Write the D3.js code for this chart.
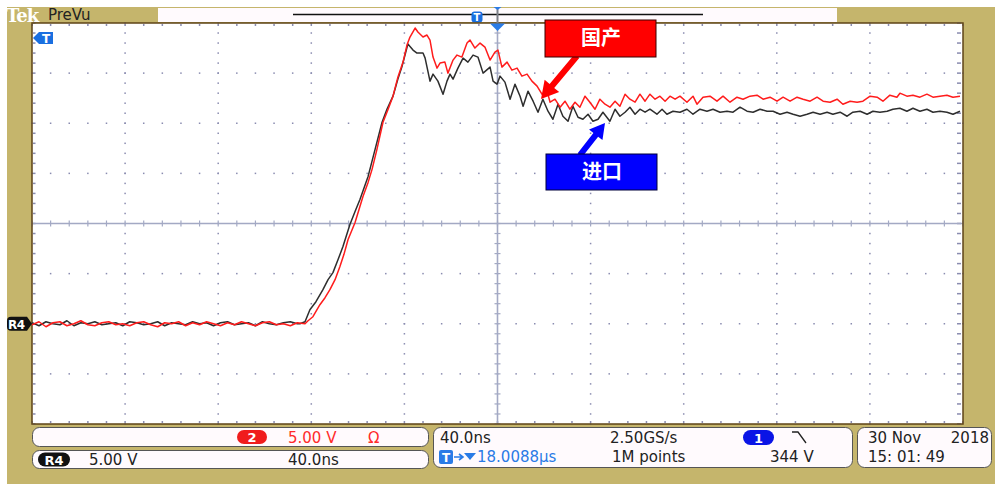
<!DOCTYPE html>
<html><head><meta charset="utf-8">
<script src="https://cdn.jsdelivr.net/npm/d3@7"></script>
<style>html,body{margin:0;padding:0;background:#fff;} svg{display:block}</style>
</head><body>
<svg id="c" width="995" height="484"></svg>
<script>
// ---- settings ----
const timeDivNs = 40;       // 40.0ns / div
const voltDiv = 5;          // 5.00 V / div
const timeDomain = [0, 400];
const voltDomain = [-10, 30];   // R4 reference (0 V) sits 2 div below centre

// ---- traces: [time ns, volts] ----
const importTrace = [ // 进口 (black)
[0,0.1],[3,-0.2],[6,0.2],[9,0],[12,-0.1],[15,0.3],[18,-0.2],[21,0.1],[24,0],[27,0.2],[30,-0.1],[33,0],[36,0.1],[39,-0.2],[42,0.2],[45,0.1],[48,-0.1],[51,0],[54,0.2],[57,-0.2],[60,0.1],[63,0],[66,-0.1],[69,0.2],[72,0],[75,0.1],[78,-0.2],[81,0.1],[84,0.2],[87,-0.1],[90,0],[93,0.1],[96,-0.2],[99,0.2],[102,0],[105,-0.1],[108,0.1],[111,0.2],[114,0],
[115.1,0],[117.3,0.2],[119.4,1.4],[122,2.2],[125,3.4],[127.2,4.4],[129.3,5.1],[131.5,6.4],[133.6,7.7],[136.6,9.9],[138.8,11.2],[140.9,12.4],[144.4,14.7],[147.4,17.4],[150.4,20.1],[152.5,21.4],[155.1,22.7],[157.2,24.4],[158.9,25.6],[161.5,27.9],[163.7,27.3],[165.4,27.0],[168,27.0],[168.9,26.5],[171,24.2],[172.3,24.9],[174.4,24.2],[176.6,22.9],[178.3,24.2],[179.6,24.9],[180.9,24.4],[183,25.5],[185.2,26.5],[187.3,26.1],[189.5,26.8],[191.6,26.6],[193.8,25.0],[196.8,25.6],[198.1,24.2],[199.8,23.9],[201.1,24.7],[203.2,24.1],[205.4,22.4],[207.5,23.9],[209.7,22.7],[211,21.7],[213.1,23.2],[215.3,22.2],[217.4,21.1],[219.5,22.4],[221.7,21.2],[223.8,20.4],[226,21.9],[228.1,20.7],[230.3,20.2],[232.4,21.7],[234.6,20.6],[236.7,20.4],[238.9,20.9],[241,20.2],[243.2,20.4],[245.3,21.1],[248.3,20.2],[250.5,21.4],[252.6,20.7],[254.8,21.1],[256.9,21.6],[259.1,20.9],[261.2,21.4],[263.4,21.1],[265.5,21.4],[268.5,20.9],[270.7,21.4],[272.8,20.9],[275.4,21.2],[278.4,21.1],[281.4,21.4],[284,20.9],[287,21.4],[290,21.2],[292.6,21.4],[295.6,21.1],[298.6,21.2],[301.2,21.1],[304.2,21.6],[307.2,21.2],[309.8,21.1],[312.8,21.4],[315.8,21.2],[318.4,21.2],[321.4,20.9],[324.4,21.1],[327,20.9],[330,20.7],[333,20.9],[335.6,21.1],[338.6,20.9],[341.6,21.1],[344.1,20.9],[347.2,21.1],[350.2,20.7],[352.7,21.1],[355.8,21.2],[358.8,20.9],[361.3,21.2],[364.3,21.1],[367.4,21.2],[369.9,21.4],[372.9,21.5],[375.9,21.2],[378.5,21.5],[381.5,21.2],[384.5,21.4],[387.1,21.1],[390.1,21.2],[393.1,21.1],[395.7,20.9],[398.7,21.2]
];
const domesticTrace = [ // 国产 (red)
[0,-0.1],[3,0.2],[6,-0.3],[9,0.1],[12,0.2],[15,-0.2],[18,0],[21,0.3],[24,-0.1],[27,-0.2],[30,0.1],[33,0.2],[36,-0.1],[39,0],[42,-0.2],[45,0.1],[48,0.2],[51,-0.1],[54,-0.3],[57,0.1],[60,0],[63,0.2],[66,-0.2],[69,0.1],[72,-0.1],[75,0.2],[78,0],[81,-0.2],[84,0.1],[87,-0.1],[90,0.2],[93,0],[96,-0.2],[99,0.1],[102,0.2],[105,-0.1],[108,0],[111,-0.2],[114,0.1],
[117.3,0],[118.6,0.3],[120.7,0.7],[123.7,1.9],[125.9,2.6],[128,3.4],[130.2,4.4],[132.3,5.7],[134,6.9],[135.8,8.4],[138.8,10.1],[140.5,11.4],[142.2,12.7],[144.4,14.1],[146.1,15.4],[148.2,17.4],[150.8,20.1],[153,21.4],[155.1,22.7],[157.2,24.6],[159.4,26.1],[161.1,27.8],[162.4,28.6],[164.6,29.5],[165.8,29.1],[168,28.6],[169.7,28.8],[171,28.3],[172.3,26.6],[174,25.5],[175.3,26.0],[177.4,26.1],[178.7,25.0],[180.9,26.3],[182.6,26.8],[184.7,26.6],[186.9,28.0],[188.2,28.3],[190.3,27.5],[192.5,28.0],[194.6,27.6],[196.8,26.3],[198.9,27.1],[200.2,27.3],[201.9,25.6],[204.1,26.1],[206.2,25.3],[208.4,25.5],[210.5,24.7],[212.7,24.9],[214.8,24.2],[217,23.7],[219.1,22.9],[221.3,23.2],[222.6,22.1],[224.7,22.4],[226.9,21.6],[229,22.2],[231.1,21.4],[233.3,22.1],[235.4,21.6],[237.6,22.7],[239.7,22.1],[241.9,21.4],[244,22.4],[246.2,21.9],[248.3,21.6],[250.5,22.2],[252.6,21.7],[254.8,22.9],[256.9,22.4],[259.1,22.1],[261.2,22.9],[263.4,22.2],[265.5,22.9],[267.7,22.4],[269.8,22.7],[272,22.2],[274.1,22.7],[276.3,22.4],[278.4,22.7],[281.4,22.1],[284,22.7],[285.7,21.9],[288.3,22.6],[291.3,22.7],[294.3,22.2],[296.9,22.7],[299.9,22.1],[302.9,22.6],[305.5,22.4],[308.5,22.7],[311.5,22.8],[314.1,22.4],[317.1,22.6],[320.1,22.2],[322.7,22.6],[325.7,22.2],[328.7,22.6],[331.3,22.4],[334.3,22.2],[337.3,22.6],[339.9,22.2],[342.9,22.1],[345.9,22.4],[348.4,21.9],[351.5,22.2],[354.5,22.1],[357,22.2],[360.1,22.7],[363.1,22.6],[365.6,22.2],[368.6,22.8],[371.6,22.6],[372.9,23.0],[375.9,22.7],[378.5,22.8],[381.5,22.6],[384.5,22.9],[387.1,22.6],[390.1,22.7],[393.1,22.8],[395.7,22.6],[398.7,22.7]
];
const legendLabels = ["国产", "进口"];
const panelTexts = {
  ch2Scale: "5.00 V", ch2Imp: "Ω", r4Scale: "5.00 V", r4Time: "40.0ns",
  timebase: "40.0ns", rate: "2.50GS/s", trigPos: "18.0088µs", points: "1M points",
  trigLevel: "344 V", date: "30 Nov", year: "2018", clock: "15: 01: 49"
};

// ---- drawing ----
const svg = d3.select("#c");
const X0 = 32, X1 = 963, Y0 = 23, Y1 = 424;
const x = d3.scaleLinear().domain(timeDomain).range([X0, X1]);
const y = d3.scaleLinear().domain(voltDomain).range([Y1, Y0]);
const KHAKI = "#c5b56c";
const FONT = "'DejaVu Sans', sans-serif";

svg.append("rect").attr("x",7).attr("y",7).attr("width",988).attr("height",477).attr("fill",KHAKI);

// top bar
svg.append("text").attr("x",6).attr("y",21.5).attr("font-family","'DejaVu Serif', serif").attr("font-weight","bold")
  .attr("font-size",18).attr("letter-spacing",-1).attr("fill","#fff").text("Tek");
svg.append("text").attr("x",48).attr("y",20).attr("font-family",FONT).attr("font-size",15).attr("fill","#222").text("PreVu");
svg.append("rect").attr("x",158).attr("y",8).attr("width",679).attr("height",14).attr("fill","#fffafd");
svg.append("line").attr("x1",293).attr("x2",703).attr("y1",14.5).attr("y2",14.5).attr("stroke","#111").attr("stroke-width",1.6);
svg.append("rect").attr("x",471.5).attr("y",11.5).attr("width",11).attr("height",11).attr("rx",3).attr("fill","#1a6fe0");
svg.append("text").attr("x",477).attr("y",21).attr("text-anchor","middle").attr("font-family",FONT).attr("font-weight","bold")
  .attr("font-size",10).attr("fill","#fff").text("T");

// plot area
svg.append("rect").attr("x",X0).attr("y",Y0).attr("width",X1-X0).attr("height",Y1-Y0).attr("fill","#fff");

const grid = svg.append("g").attr("fill","#8a8cb0");
const majorT = d3.range(timeDomain[0], timeDomain[1]+0.1, timeDivNs);
const majorV = d3.range(voltDomain[0], voltDomain[1]+0.1, voltDiv);
const minorT = d3.range(timeDomain[0], timeDomain[1]+0.1, timeDivNs/5);
const minorV = d3.range(voltDomain[0], voltDomain[1]+0.1, voltDiv/5);
const centreT = 200, centreV = 10;
majorT.slice(1,-1).filter(t=>t!==centreT).forEach(t=>{
  minorV.forEach(v=>{ grid.append("rect").attr("x",x(t)-0.75).attr("y",y(v)-0.75).attr("width",1.5).attr("height",1.5); });
});
majorV.slice(1,-1).filter(v=>v!==centreV).forEach(v=>{
  minorT.forEach(t=>{ grid.append("rect").attr("x",x(t)-0.75).attr("y",y(v)-0.75).attr("width",1.5).attr("height",1.5); });
});
minorT.forEach(t=>{
  grid.append("rect").attr("x",x(t)-0.75).attr("y",Y0+1).attr("width",1.5).attr("height",2);
  grid.append("rect").attr("x",x(t)-0.75).attr("y",Y1-3).attr("width",1.5).attr("height",2);
});
minorV.forEach(v=>{
  grid.append("rect").attr("x",X0+1).attr("y",y(v)-0.75).attr("width",2.5).attr("height",1.5);
  grid.append("rect").attr("x",X1-6).attr("y",y(v)-0.75).attr("width",4).attr("height",1.5);
});
const cc = svg.append("g").attr("stroke","#a3a9c4");
cc.append("line").attr("x1",x(centreT)).attr("x2",x(centreT)).attr("y1",Y0).attr("y2",Y1).attr("stroke-width",1.6);
cc.append("line").attr("x1",X0).attr("x2",X1).attr("y1",y(centreV)).attr("y2",y(centreV)).attr("stroke-width",1.6);
minorT.forEach(t=>{ cc.append("line").attr("x1",x(t)).attr("x2",x(t)).attr("y1",y(centreV)-3).attr("y2",y(centreV)+3).attr("stroke-width",1.2); });
minorV.forEach(v=>{ cc.append("line").attr("x1",x(centreT)-3).attr("x2",x(centreT)+3).attr("y1",y(v)).attr("y2",y(v)).attr("stroke-width",1.2); });

svg.append("rect").attr("x",X0).attr("y",Y0).attr("width",X1-X0).attr("height",Y1-Y0)
  .attr("fill","none").attr("stroke","#5e4316").attr("stroke-width",1.5);

// traces
svg.append("clipPath").attr("id","clip").append("rect").attr("x",X0).attr("y",Y0).attr("width",X1-X0).attr("height",Y1-Y0);
const line = d3.line().x(d=>x(d[0])).y(d=>y(d[1]));
const tr = svg.append("g").attr("clip-path","url(#clip)").attr("fill","none").attr("stroke-width",1.5).attr("stroke-linejoin","round");
tr.append("path").datum(importTrace).attr("d",line).attr("stroke","#2e2e2e");
tr.append("path").datum(domesticTrace).attr("d",line).attr("stroke","#ff1c1c");

// trigger position marker at top
const xc = x(centreT);
svg.append("line").attr("x1",xc).attr("x2",xc).attr("y1",8).attr("y2",23).attr("stroke","#7d7f88").attr("stroke-width",2);
svg.append("path").attr("d",`M${xc-4},7L${xc+4},7L${xc},10Z`).attr("fill","#2a7be6");
svg.append("path").attr("d",`M${xc-7.5},23.5L${xc+7.5},23.5L${xc},31Z`).attr("fill","#2a7be6");

// trigger level marker top-left
svg.append("path").attr("d","M33,38L39,32L53,32L53,44L39,44Z").attr("fill","#1a6fe0");
svg.append("text").attr("x",46).attr("y",43).attr("text-anchor","middle").attr("font-family",FONT).attr("font-weight","bold")
  .attr("font-size",12).attr("fill","#fff").text("T");

// R4 reference marker
const yr = y(0);
svg.append("path").attr("d",`M11,${yr-7}L27,${yr-7}L32,${yr}L27,${yr+7}L11,${yr+7}Q7,${yr+7} 7,${yr+3}L7,${yr-3}Q7,${yr-7} 11,${yr-7}Z`).attr("fill","#111");
svg.append("text").attr("x",8).attr("y",yr+5).attr("font-family",FONT).attr("font-weight","bold")
  .attr("font-size",12).attr("fill","#fff").attr("letter-spacing",-0.5).text("R4");

// annotations
function arrowPath(x1,y1,x2,y2,sw,hl,hw){
  const dx=x2-x1, dy=y2-y1, L=Math.hypot(dx,dy), ux=dx/L, uy=dy/L, nx=-uy, ny=ux;
  const bx=x2-ux*hl, by=y2-uy*hl;
  const p=[[x1+nx*sw/2,y1+ny*sw/2],[bx+nx*sw/2,by+ny*sw/2],[bx+nx*hw/2,by+ny*hw/2],[x2,y2],
           [bx-nx*hw/2,by-ny*hw/2],[bx-nx*sw/2,by-ny*sw/2],[x1-nx*sw/2,y1-ny*sw/2]];
  return "M"+p.map(q=>q.join(",")).join("L")+"Z";
}
svg.append("path").attr("d",arrowPath(577,56,541,99,6,17,19)).attr("fill","#ff0000");
svg.append("path").attr("d",arrowPath(580,155,605,123,6,15,17)).attr("fill","#0000ff");
svg.append("rect").attr("x",545).attr("y",20).attr("width",111).attr("height",37).attr("fill","#ff0000").attr("stroke","#3a0000").attr("stroke-width",1);
svg.append("text").attr("x",601).attr("y",45).attr("text-anchor","middle").attr("font-family","'Noto Sans CJK SC', sans-serif")
  .attr("font-weight","bold").attr("font-size",20).attr("fill","#fff").text(legendLabels[0]);
svg.append("rect").attr("x",546).attr("y",154).attr("width",111).attr("height",36).attr("fill","#0000ff").attr("stroke","#00003a").attr("stroke-width",1);
svg.append("text").attr("x",602).attr("y",179).attr("text-anchor","middle").attr("font-family","'Noto Sans CJK SC', sans-serif")
  .attr("font-weight","bold").attr("font-size",20).attr("fill","#fff").text(legendLabels[1]);

// bottom panels
const panels = [[32,427,396,19],[32,450,396,18],[433,427,419,40],[857,427,134,40]];
panels.forEach(p=>svg.append("rect").attr("x",p[0]+0.5).attr("y",p[1]+0.5).attr("width",p[2]).attr("height",p[3]).attr("rx",7)
  .attr("fill","#fffafd").attr("stroke","#555").attr("stroke-width",1));
function txt(xp,yp,s,col,anchor){ return svg.append("text").attr("x",xp).attr("y",yp).attr("font-family",FONT).attr("font-size",15)
  .attr("fill",col||"#222").attr("text-anchor",anchor||"start").text(s); }
svg.append("rect").attr("x",237).attr("y",430).attr("width",30).attr("height",14).attr("rx",7).attr("fill","#f01c1c");
svg.append("text").attr("x",252).attr("y",442).attr("text-anchor","middle").attr("font-family",FONT).attr("font-weight","bold").attr("font-size",13).attr("fill","#fff").text("2");
txt(288,443,panelTexts.ch2Scale,"#ff2a2a");
txt(368,443,panelTexts.ch2Imp,"#ff2a2a");
svg.append("rect").attr("x",38).attr("y",452.5).attr("width",32).attr("height",14).attr("rx",7).attr("fill","#111");
svg.append("text").attr("x",54).attr("y",464.5).attr("text-anchor","middle").attr("font-family",FONT).attr("font-weight","bold").attr("font-size",13).attr("fill","#fff").text("R4");
txt(89,465,panelTexts.r4Scale);
txt(288,465,panelTexts.r4Time);
txt(440,443,panelTexts.timebase);
txt(610,443,panelTexts.rate);
svg.append("rect").attr("x",743).attr("y",430).attr("width",31).attr("height",15).attr("rx",7.5).attr("fill","#0a14e6");
svg.append("text").attr("x",758.5).attr("y",442.5).attr("text-anchor","middle").attr("font-family",FONT).attr("font-weight","bold").attr("font-size",13).attr("fill","#fff").text("1");
svg.append("path").attr("d","M792,432L798,432L806,443").attr("fill","none").attr("stroke","#222").attr("stroke-width",1.3);
svg.append("rect").attr("x",439).attr("y",450).attr("width",14).attr("height",14).attr("rx",2).attr("fill","#2a7be6");
svg.append("text").attr("x",446).attr("y",462).attr("text-anchor","middle").attr("font-family",FONT).attr("font-weight","bold").attr("font-size",12).attr("fill","#fff").text("T");
svg.append("path").attr("d","M454,457L462,457M459,454L463,457L459,460").attr("fill","none").attr("stroke","#2a7be6").attr("stroke-width",1.6);
svg.append("path").attr("d","M464,453L476,453L470,460Z").attr("fill","#2a7be6");
txt(477,462,panelTexts.trigPos,"#2a7be6");
txt(612,462,panelTexts.points);
txt(770,462,panelTexts.trigLevel);
txt(868,443,panelTexts.date);
txt(989,443,panelTexts.year,null,"end");
txt(868,462,panelTexts.clock);
</script>
</body></html>
